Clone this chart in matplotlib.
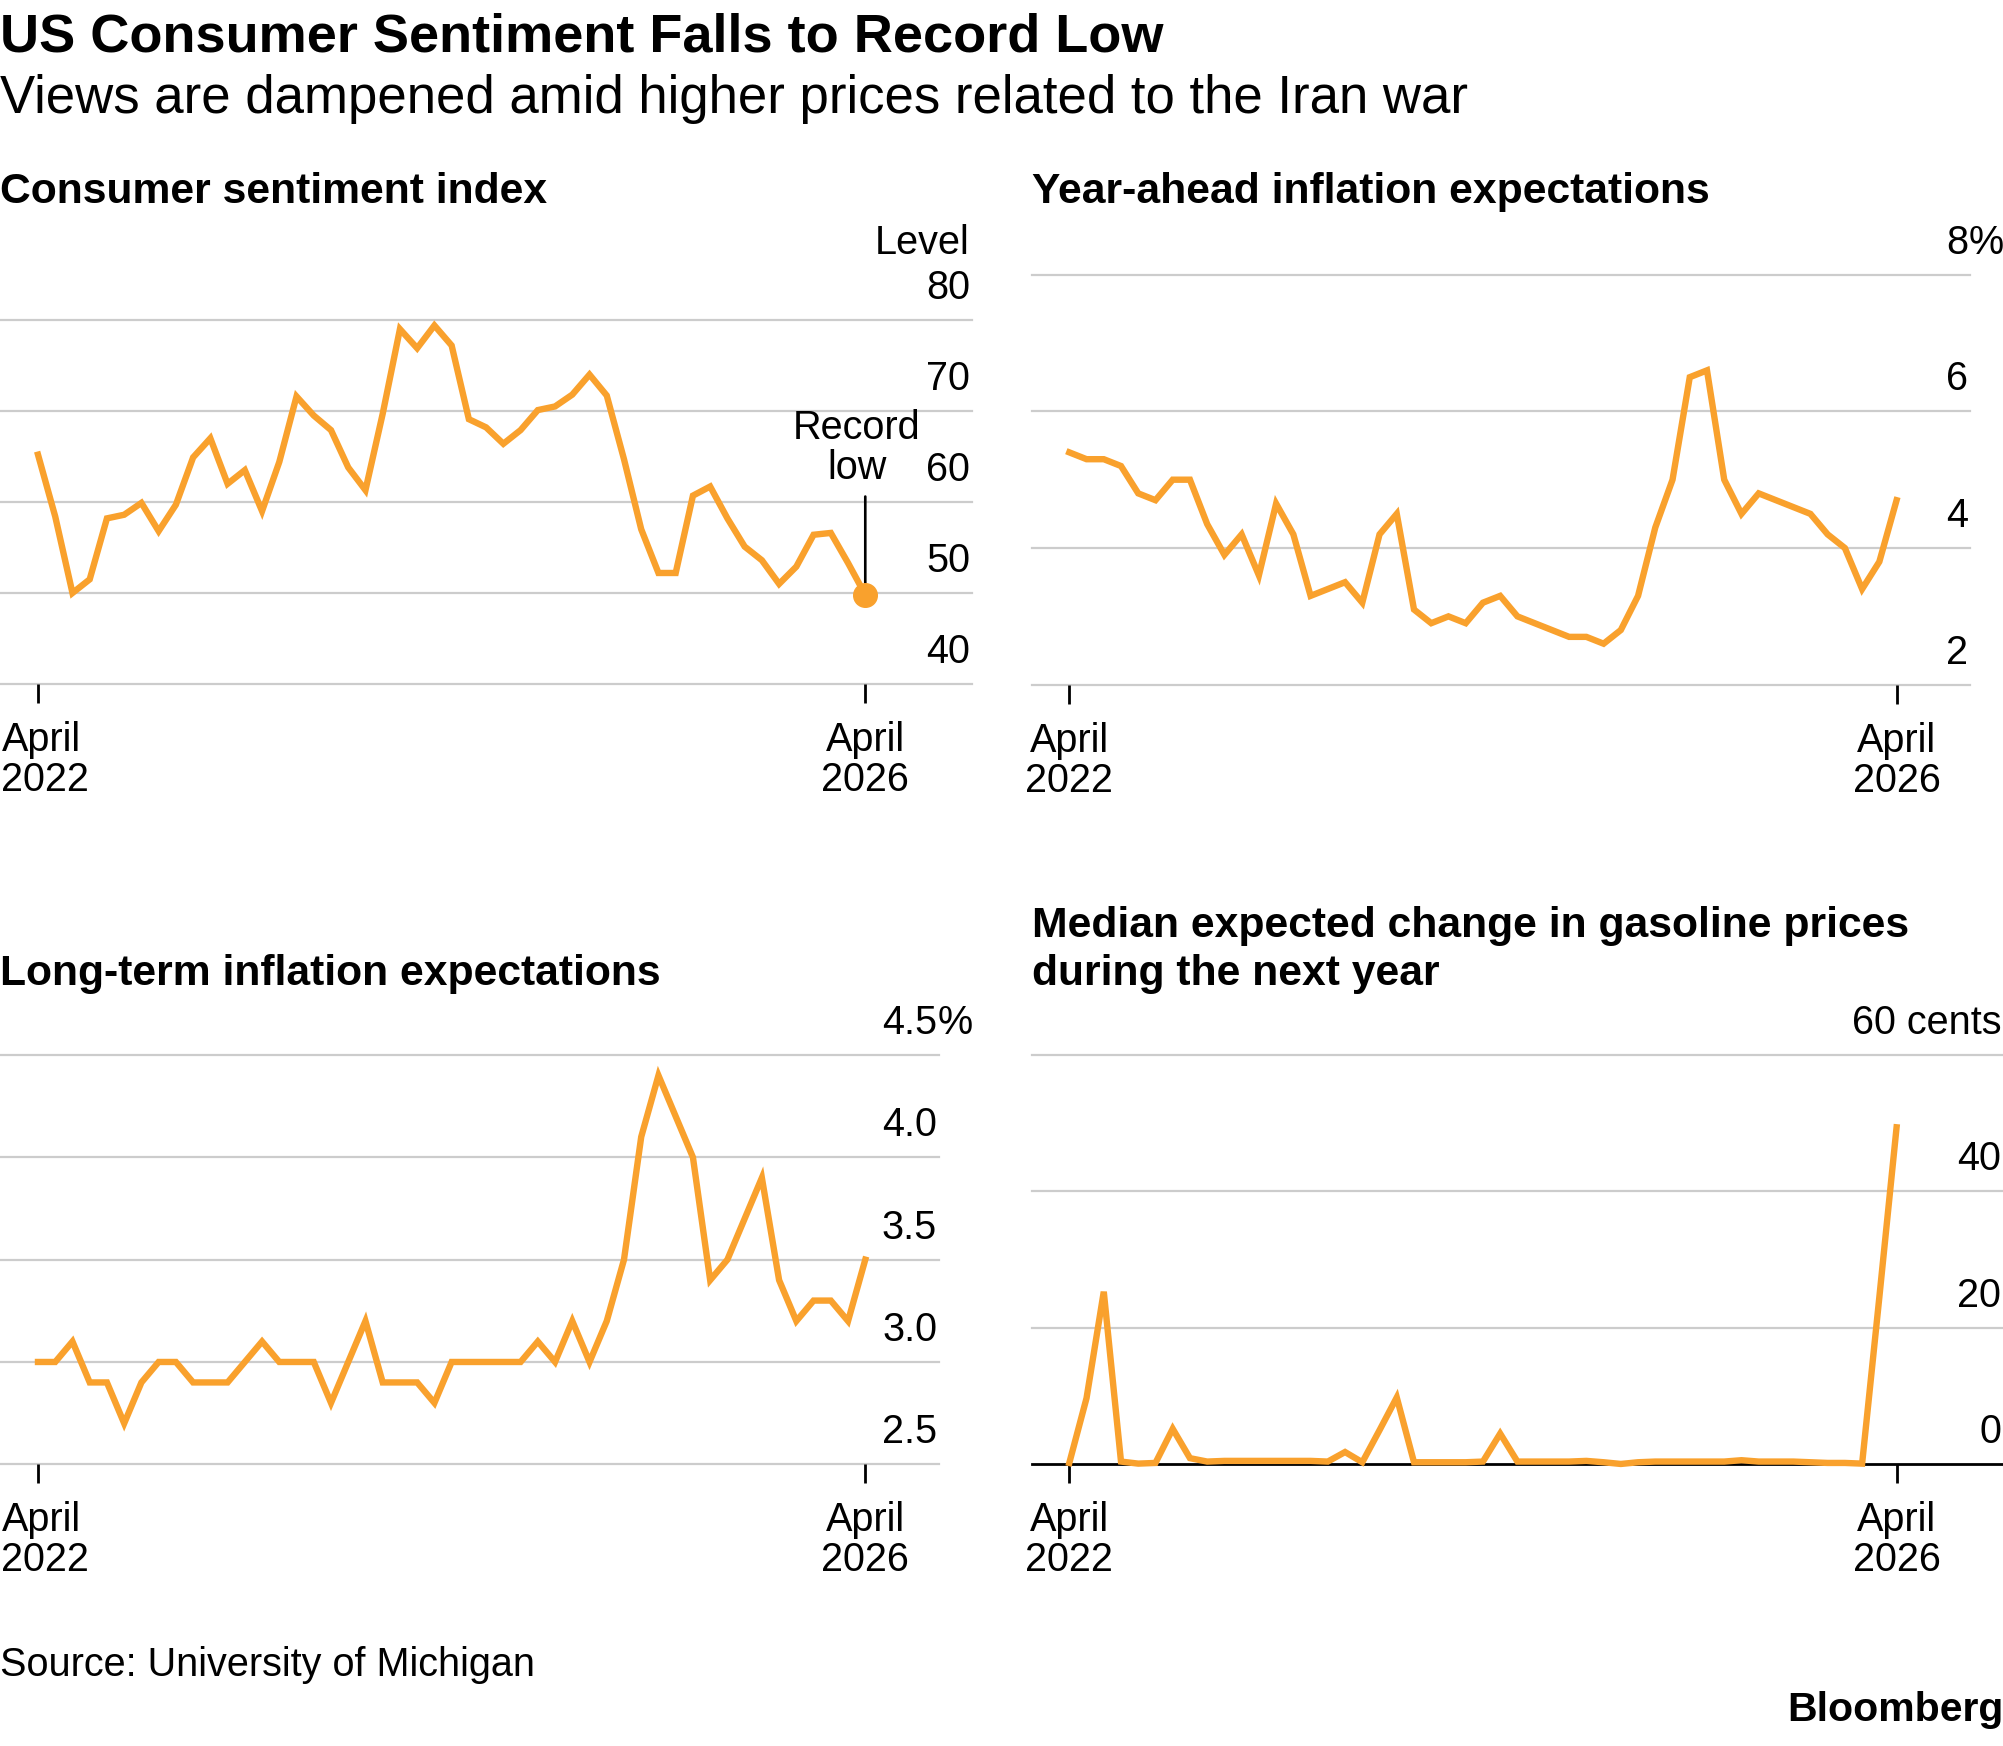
import matplotlib
matplotlib.use("Agg")
import matplotlib.pyplot as plt
import matplotlib.transforms as mtransforms

# ---------------- data ----------------
months = list(range(49))  # April 2022 ... April 2026, monthly
tick_pos = [0, 48]
tick_top = ["April", "April"]
tick_bot = ["2022", "2026"]

sentiment = [65.2, 58.4, 50.0, 51.5, 58.2, 58.6, 59.9, 56.8, 59.7,
             64.9, 67.0, 62.0, 63.5, 59.0, 64.4, 71.6, 69.5, 67.9, 63.8, 61.3, 69.7,
             79.0, 76.9, 79.4, 77.2, 69.1, 68.2, 66.4, 67.9, 70.1, 70.5, 71.8, 74.0,
             71.7, 64.7, 57.0, 52.2, 52.2, 60.7, 61.7, 58.2, 55.1, 53.6, 51.0, 52.9,
             56.4, 56.6, 53.3, 49.8]
year_ahead = [5.4, 5.3, 5.3, 5.2, 4.8, 4.7, 5.0, 5.0, 4.35,
              3.9, 4.2, 3.6, 4.65, 4.2, 3.3, 3.4, 3.5, 3.2, 4.2, 4.5, 3.1,
              2.9, 3.0, 2.9, 3.2, 3.3, 3.0, 2.9, 2.8, 2.7, 2.7, 2.6, 2.8,
              3.3, 4.3, 5.0, 6.5, 6.6, 5.0, 4.5, 4.8, 4.7, 4.6, 4.5, 4.2,
              4.0, 3.4, 3.8, 4.7]
long_term = [3.0, 3.0, 3.1, 2.9, 2.9, 2.7, 2.9, 3.0, 3.0,
             2.9, 2.9, 2.9, 3.0, 3.1, 3.0, 3.0, 3.0, 2.8, 3.0, 3.2, 2.9,
             2.9, 2.9, 2.8, 3.0, 3.0, 3.0, 3.0, 3.0, 3.1, 3.0, 3.2, 3.0,
             3.2, 3.5, 4.1, 4.4, 4.2, 4.0, 3.4, 3.5, 3.7, 3.9, 3.4, 3.2,
             3.3, 3.3, 3.2, 3.5]
gasoline = [0.2, 9.7, 25.3, 0.4, 0.1, 0.2, 5.2, 0.9, 0.4,
            0.5, 0.5, 0.5, 0.5, 0.5, 0.5, 0.4, 1.8, 0.3, 5.0, 9.8, 0.3,
            0.3, 0.3, 0.3, 0.4, 4.5, 0.4, 0.4, 0.4, 0.4, 0.5, 0.3, 0.05,
            0.3, 0.4, 0.4, 0.4, 0.4, 0.4, 0.6, 0.4, 0.4, 0.4, 0.3, 0.2,
            0.2, 0.1, 24.5, 49.4]

sent_ticks = [40, 50, 60, 70, 80]
sent_labels = ["40", "50", "60", "70", "80"]
ya_ticks = [2, 4, 6, 8]
ya_labels = ["2", "4", "6", "8"]
lt_ticks = [2.5, 3.0, 3.5, 4.0, 4.5]
lt_labels = ["2.5", "3.0", "3.5", "4.0", "4.5"]
gas_ticks = [0, 20, 40, 60]
gas_labels = ["0", "20", "40", "60 cents"]

# ---------------- style ----------------
W, H = 2003, 1746
ORANGE = "#F9A12D"
GRID = "#cccccc"
plt.rcParams["font.family"] = ["Liberation Sans", "DejaVu Sans"]

fig = plt.figure(figsize=(W / 100, H / 100), dpi=100)
fig.patch.set_facecolor("white")

TICK_FS = 28.5
PANEL_FS = 30.7


def ftext(x, y, s, **kw):
    return fig.text(x / W, 1 - y / H, s, va="baseline", **kw)


def make_panel(x0, x1, ytop, ybot, x_first, ticks, labels, unit=None,
               baseline_black=False, left_edge=False):
    ax = fig.add_axes([x0 / W, 1 - ybot / H, (x1 - x0) / W, (ybot - ytop) / H])
    step = 17.235
    ax.set_xlim((x0 - x_first) / step, (x1 - x_first) / step)
    ax.set_ylim(ticks[0], ticks[-1])
    for s in ax.spines.values():
        s.set_visible(False)
    ax.set_facecolor("none")
    for v in ticks:
        if baseline_black and v == ticks[0]:
            ax.axhline(v, color="black", lw=2.0, zorder=1, clip_on=False)
        else:
            ax.axhline(v, color=GRID, lw=1.6, zorder=0, clip_on=False)
    ax.set_yticks([])
    ax.set_xticks(tick_pos)
    ax.tick_params(axis="x", length=13.5, width=2.0, color="black",
                   direction="out", labelbottom=False)
    # y labels above grid lines, right aligned at axis end
    tr = mtransforms.blended_transform_factory(ax.transAxes, ax.transData)
    tr_num = mtransforms.offset_copy(tr, fig=fig, x=-2, y=21, units="dots")
    for v, lab in zip(ticks, labels):
        ax.text(1, v, lab, transform=tr_num, ha="right", va="baseline",
                fontsize=TICK_FS, color="black")
    if unit is not None:
        tr_u = mtransforms.offset_copy(tr, fig=fig, x=-1, y=21, units="dots")
        ax.text(1, ticks[-1], unit, transform=tr_u, ha="left", va="baseline",
                fontsize=TICK_FS, color="black")
    # x tick labels
    trx = mtransforms.blended_transform_factory(ax.transData, fig.transFigure)
    for k, (p, a, b) in enumerate(zip(tick_pos, tick_top, tick_bot)):
        dx_a, dx_b = (3, 7) if (left_edge and k == 0) else (0, 0)
        ta = mtransforms.offset_copy(trx, fig=fig, x=dx_a, y=0, units="dots")
        tb = mtransforms.offset_copy(trx, fig=fig, x=dx_b, y=0, units="dots")
        ax.text(p, 1 - (ybot + 67) / H, a, transform=ta, ha="center",
                va="baseline", fontsize=TICK_FS, clip_on=False)
        ax.text(p, 1 - (ybot + 107) / H, b, transform=tb, ha="center",
                va="baseline", fontsize=TICK_FS, clip_on=False)
    return ax


# Panel 1: consumer sentiment
ax1 = make_panel(0, 972, 320, 684, 38, sent_ticks, sent_labels, left_edge=True)
ax1.plot(months, sentiment, color=ORANGE, lw=4.6, solid_joinstyle="miter",
         clip_on=False, zorder=3)
ax1.plot([months[-1]], [sentiment[-1]], "o", color=ORANGE, ms=17,
         clip_on=False, zorder=4)
ax1.annotate("", xy=(months[-1], sentiment[-1]), xytext=(months[-1], 60.6),
             arrowprops=dict(arrowstyle="-", color="black", lw=1.9,
                             shrinkA=0, shrinkB=0), zorder=2)
ftext(970, 254, "Level", ha="right", fontsize=TICK_FS)
ftext(857, 439, "Record", ha="center", fontsize=TICK_FS)
ftext(857, 479, "low", ha="center", fontsize=TICK_FS)

# Panel 2: year-ahead inflation expectations
ax2 = make_panel(1032, 1970, 274.7, 684.7, 1069.3, ya_ticks, ya_labels, unit="%")
ax2.plot(months, year_ahead, color=ORANGE, lw=4.6, solid_joinstyle="miter",
         clip_on=False, zorder=3)

# Panel 3: long-term inflation expectations
ax3 = make_panel(0, 939, 1055, 1464.3, 38, lt_ticks, lt_labels, unit="%",
                 left_edge=True)
ax3.plot(months, long_term, color=ORANGE, lw=4.6, solid_joinstyle="miter",
         clip_on=False, zorder=3)

# Panel 4: gasoline
ax4 = make_panel(1032, 2003, 1055, 1464.3, 1069.3, gas_ticks, gas_labels,
                 baseline_black=True)
ax4.plot(months, gasoline, color=ORANGE, lw=4.6, solid_joinstyle="miter",
         clip_on=False, zorder=3)

# ---------------- titles ----------------
ftext(0, 52, "US Consumer Sentiment Falls to Record Low", fontsize=39,
      fontweight="bold")
ftext(0, 113, "Views are dampened amid higher prices related to the Iran war",
      fontsize=38)
ftext(0, 203, "Consumer sentiment index", fontsize=PANEL_FS, fontweight="bold")
ftext(1032, 203, "Year-ahead inflation expectations", fontsize=PANEL_FS,
      fontweight="bold")
ftext(0, 985, "Long-term inflation expectations", fontsize=PANEL_FS,
      fontweight="bold")
ftext(1032, 937, "Median expected change in gasoline prices", fontsize=PANEL_FS,
      fontweight="bold")
ftext(1032, 985, "during the next year", fontsize=PANEL_FS, fontweight="bold")
ftext(0, 1676, "Source: University of Michigan", fontsize=TICK_FS)
ftext(2003, 1721, "Bloomberg", ha="right", fontsize=29.5, fontweight="bold")

fig.savefig("out.png", dpi=100, facecolor="white")
